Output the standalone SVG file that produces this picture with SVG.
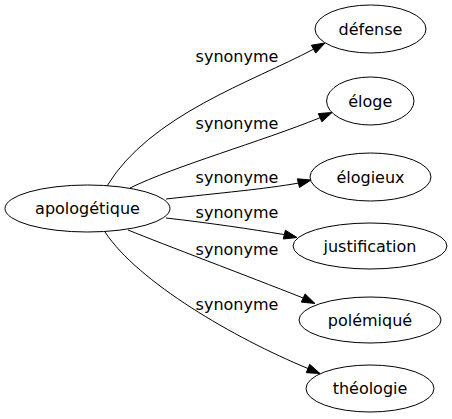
<svg xmlns="http://www.w3.org/2000/svg" width="452" height="419" viewBox="0 0 452 419">
<style>
.node ellipse{fill:#fff;stroke:#000;stroke-width:1}
.node text,.lbl{font-family:"DejaVu Sans",sans-serif;font-size:16px;fill:#000;text-anchor:middle}
.edge path{fill:none;stroke:#000;stroke-width:1}
.edge polygon{fill:#000;stroke:#000;stroke-width:1}
</style>
<rect width="452" height="419" fill="#fff"/>
<g id="edges">
<g class="edge" id="e1"><path d="M107,186 C150,115 252,82 313.6,49.1"/><polygon points="325,43 315.7,53.1 311.4,45.2"/><text class="lbl" x="237" y="62">synonyme</text></g>
<g class="edge" id="e2"><path d="M130,188 C175,166 260,142 320.1,117.7"/><polygon points="332,112.5 321.9,121.8 318.3,113.6"/><text class="lbl" x="237" y="129">synonyme</text></g>
<g class="edge" id="e3"><path d="M166,199 C220,193 265,189 298.4,183.1"/><polygon points="311,180 299.5,187.5 297.3,178.8"/><text class="lbl" x="237" y="183">synonyme</text></g>
<g class="edge" id="e4"><path d="M166,218 C210,223 250,229 284.3,234.6"/><polygon points="297,237.5 283.3,239 285.4,230.2"/><text class="lbl" x="237" y="218">synonyme</text></g>
<g class="edge" id="e5"><path d="M128,230 C165,245 245,275 303.2,298"/><polygon points="315,303.5 301.3,302.1 305.1,293.9"/><text class="lbl" x="237" y="255">synonyme</text></g>
<g class="edge" id="e6"><path d="M105,232 C138,282 234,338 308,368.5"/><polygon points="320,373.5 306.3,372.7 309.7,364.3"/><text class="lbl" x="237" y="310">synonyme</text></g>
</g>
<g class="node" id="n-apologetique"><ellipse cx="87.5" cy="208.5" rx="82.5" ry="23.5"/><text x="87.5" y="214">apologétique</text></g>
<g class="node" id="n-defense"><ellipse cx="370.5" cy="29" rx="55.5" ry="24"/><text x="370.5" y="35">défense</text></g>
<g class="node" id="n-eloge"><ellipse cx="370.3" cy="101" rx="43.7" ry="24"/><text x="370.3" y="107">éloge</text></g>
<g class="node" id="n-elogieux"><ellipse cx="370.5" cy="177" rx="60.5" ry="24"/><text x="370.5" y="183">élogieux</text></g>
<g class="node" id="n-justification"><ellipse cx="370" cy="246" rx="77" ry="23"/><text x="370" y="252">justification</text></g>
<g class="node" id="n-polemique"><ellipse cx="370" cy="320" rx="71" ry="23"/><text x="370" y="326">polémiqué</text></g>
<g class="node" id="n-theologie"><ellipse cx="370" cy="388.5" rx="64" ry="23.5"/><text x="370" y="394">théologie</text></g>
</svg>
